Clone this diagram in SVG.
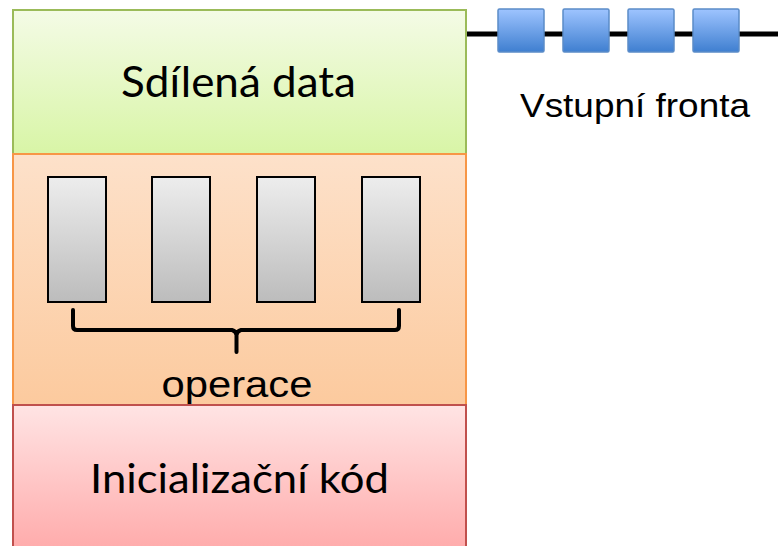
<svg xmlns="http://www.w3.org/2000/svg" width="778" height="546" viewBox="0 0 778 546">
<defs>
<linearGradient id="gGreen" x1="0" y1="0" x2="0" y2="1"><stop offset="0" stop-color="#F4FBE6"/><stop offset="1" stop-color="#D8F5A6"/></linearGradient>
<linearGradient id="gOrange" x1="0" y1="0" x2="0" y2="1"><stop offset="0" stop-color="#FDE1CA"/><stop offset="1" stop-color="#FCCA9E"/></linearGradient>
<linearGradient id="gRed" x1="0" y1="0" x2="0" y2="1"><stop offset="0" stop-color="#FFE4E4"/><stop offset="1" stop-color="#FFA5A5"/></linearGradient>
<linearGradient id="gGray" x1="0" y1="0" x2="0" y2="1"><stop offset="0" stop-color="#EDEDED"/><stop offset="1" stop-color="#BCBCBC"/></linearGradient>
<linearGradient id="gBlue" x1="0" y1="0" x2="0" y2="1"><stop offset="0" stop-color="#9EC4FF"/><stop offset="1" stop-color="#3F7FD0"/></linearGradient>
</defs>
<style>
.t{font-family:"Liberation Sans",Arial,sans-serif;fill:#000;text-anchor:middle}
.c{font-family:Lato,"Liberation Sans",sans-serif;fill:#000;text-anchor:middle}
.op{fill:url(#gGray);stroke:#000;stroke-width:2}
.q{fill:url(#gBlue);stroke:#5B8CC8;stroke-width:1.5}
</style>
<g id="connectors">
<line x1="466" y1="34" x2="778" y2="34" stroke="#000" stroke-width="5"/>
</g>
<g id="sdilena">
<rect x="13" y="10" width="453" height="144" fill="url(#gGreen)" stroke="#9BBB59" stroke-width="2"/>
<text class="c" x="238.5" y="97" font-size="42" textLength="235" lengthAdjust="spacingAndGlyphs">Sdílená data</text>
</g>
<g id="operace-block">
<rect x="13" y="154" width="453" height="251" fill="url(#gOrange)" stroke="#F79646" stroke-width="2"/>
<rect class="op" x="48" y="177" width="58" height="125"/>
<rect class="op" x="152" y="177" width="58" height="125"/>
<rect class="op" x="257" y="177" width="58" height="125"/>
<rect class="op" x="362" y="177" width="58" height="125"/>
<path d="M73,310 V326 Q73,330 77,330 H232 Q236,331 236.5,335 V352 M236.5,335 Q237,331 241,330 H395 Q399,330 399,326 V310" fill="none" stroke="#000" stroke-width="4" stroke-linecap="round"/>
<text class="t" x="237" y="397" font-size="36" textLength="151" lengthAdjust="spacingAndGlyphs">operace</text>
</g>
<g id="inicializace">
<rect x="13" y="405" width="453" height="160" fill="url(#gRed)" stroke="#C0504D" stroke-width="2"/>
<text class="c" x="239.5" y="493" font-size="41" textLength="299" lengthAdjust="spacingAndGlyphs">Inicializační kód</text>
</g>
<g id="fronta">
<rect class="q" x="498" y="9" width="46" height="43" rx="1.5"/>
<rect class="q" x="563" y="9" width="46" height="43" rx="1.5"/>
<rect class="q" x="628" y="9" width="46" height="43" rx="1.5"/>
<rect class="q" x="693" y="9" width="46" height="43" rx="1.5"/>
<text class="t" x="635" y="117" font-size="33" textLength="230" lengthAdjust="spacingAndGlyphs">Vstupní fronta</text>
</g>
</svg>
